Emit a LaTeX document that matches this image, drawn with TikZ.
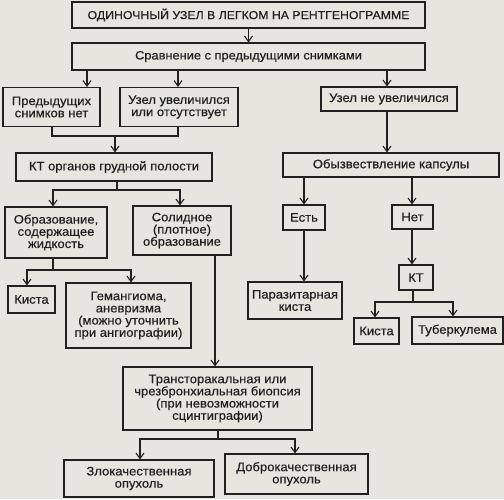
\documentclass[tikz,border=0pt]{standalone}
\usepackage{fontspec}
\setmainfont{Liberation Sans}[FakeStretch=1.06, FakeBold=0.4]
\usetikzlibrary{arrows.meta}
\definecolor{paper}{RGB}{230,230,222}
\definecolor{ink}{RGB}{32,32,32}
\begin{document}
\begin{tikzpicture}[x=1pt,y=-1pt,
 box/.style={draw=ink, line width=1.1pt, inner sep=0pt, align=center, text=ink, font=\fontsize{12.3}{12.2}\selectfont},
 link/.style={draw=ink, line width=1.1pt},
 arr/.style={link,-{Straight Barb[length=5.5pt,width=8pt]}}]
\path[use as bounding box, fill=paper] (0,0) rectangle (504,499);
% nodes
\node[box, minimum width=353, minimum height=26, font=\fontsize{11.6}{12}\selectfont] (top) at (248.5,15) {ОДИНОЧНЫЙ УЗЕЛ В ЛЕГКОМ НА РЕНТГЕНОГРАММЕ};
\node[box, minimum width=353, minimum height=27, font=\fontsize{12.1}{12.2}\selectfont] (cmp) at (248.5,56.5) {Сравнение с предыдущими снимками};
\node[box, minimum width=97, minimum height=39] (none) at (51.5,107) {Предыдущих\\снимков нет};
\node[box, minimum width=118, minimum height=39] (grew) at (179,107) {Узел увеличился\\или отсутствует};
\node[box, minimum width=136, minimum height=24] (notgrew) at (389,99) {Узел не увеличился};
\node[box, minimum width=196, minimum height=28] (ktchest) at (114,167) {КТ органов грудной полости};
\node[box, minimum width=102, minimum height=51] (fluid) at (56,232.5) {Образование,\\содержащее\\жидкость};
\node[box, minimum width=98, minimum height=49] (solid) at (182,230.5) {Солидное\\(плотное)\\образование};
\node[box, minimum width=47, minimum height=27] (cyst1) at (31.5,299.5) {Киста};
\node[box, minimum width=125, minimum height=65] (hemang) at (128.5,315.5) {Гемангиома,\\аневризма\\(можно уточнить\\при ангиографии)};
\node[box, minimum width=189, minimum height=63] (biopsy) at (217.5,398.5) {Трансторакальная или\\чрезбронхиальная биопсия\\(при невозможности\\сцинтиграфии)};
\node[box, minimum width=150, minimum height=37] (malig) at (139,478.5) {Злокачественная\\опухоль};
\node[box, minimum width=143, minimum height=40] (benign) at (296.5,474) {Доброкачественная\\опухоль};
\node[box, minimum width=216, minimum height=24] (calc) at (391,165) {Обызвествление капсулы};
\node[box, minimum width=42, minimum height=25] (yes) at (304,217.5) {Есть};
\node[box, minimum width=41, minimum height=24] (no) at (412.5,217) {Нет};
\node[box, minimum width=94, minimum height=37] (parasite) at (295,300.5) {Паразитарная\\киста};
\node[box, minimum width=34, minimum height=25] (kt) at (416,277.5) {КТ};
\node[box, minimum width=45, minimum height=26] (cyst2) at (376.5,331) {Киста};
\node[box, minimum width=91, minimum height=27] (tuberc) at (457.5,330.5) {Туберкулема};
% helper coordinates
\coordinate (xa) at (87,0);
\coordinate (xb) at (178,0);
\coordinate (xc) at (387,0);
\coordinate (j1) at (52,136);
\coordinate (j2) at (178,136);
\coordinate (j3) at (115,136);
\coordinate (k0) at (117,190);
\coordinate (k1) at (53,0);
\coordinate (k2) at (180,0);
\coordinate (f0) at (53,270);
\coordinate (f1) at (27,0);
\coordinate (f2) at (131,0);
\coordinate (xs) at (215,0);
\coordinate (b0) at (218,439);
\coordinate (b1) at (140,0);
\coordinate (b2) at (295,0);
\coordinate (xy) at (304,0);
\coordinate (xn) at (412,0);
\coordinate (t0) at (413,302);
\coordinate (t1) at (375,0);
\coordinate (t2) at (453,0);
% connectors
\draw[arr] (top) -- (cmp);
\draw[arr] (cmp.south -| xa) -- (none.north -| xa);
\draw[arr] (cmp.south -| xb) -- (grew.north -| xb);
\draw[arr] (cmp.south -| xc) -- (notgrew.north -| xc);
\draw[link] (none.south -| j1) -- (j1) -- (j2) -- (grew.south -| j2);
\draw[arr] (j3) -- (ktchest.north -| j3);
\draw[link] (ktchest.south -| k0) -- (k0);
\draw[arr] (k0) -| (fluid.north -| k1);
\draw[arr] (k0) -| (solid.north -| k2);
\draw[link] (fluid.south -| f0) -- (f0);
\draw[arr] (f0) -| (cyst1.north -| f1);
\draw[arr] (f0) -| (hemang.north -| f2);
\draw[arr] (solid.south -| xs) -- (biopsy.north -| xs);
\draw[link] (biopsy.south -| b0) -- (b0);
\draw[arr] (b0) -| (malig.north -| b1);
\draw[arr] (b0) -| (benign.north -| b2);
\draw[arr] (notgrew.south -| xc) -- (calc.north -| xc);
\draw[arr] (calc.south -| xy) -- (yes.north -| xy);
\draw[arr] (calc.south -| xn) -- (no.north -| xn);
\draw[arr] (yes.south -| xy) -- (parasite.north -| xy);
\draw[arr] (no.south -| xn) -- (kt.north -| xn);
\draw[link] (kt.south -| t0) -- (t0);
\draw[arr] (t0) -| (cyst2.north -| t1);
\draw[arr] (t0) -| (tuberc.north -| t2);
\end{tikzpicture}
\end{document}
